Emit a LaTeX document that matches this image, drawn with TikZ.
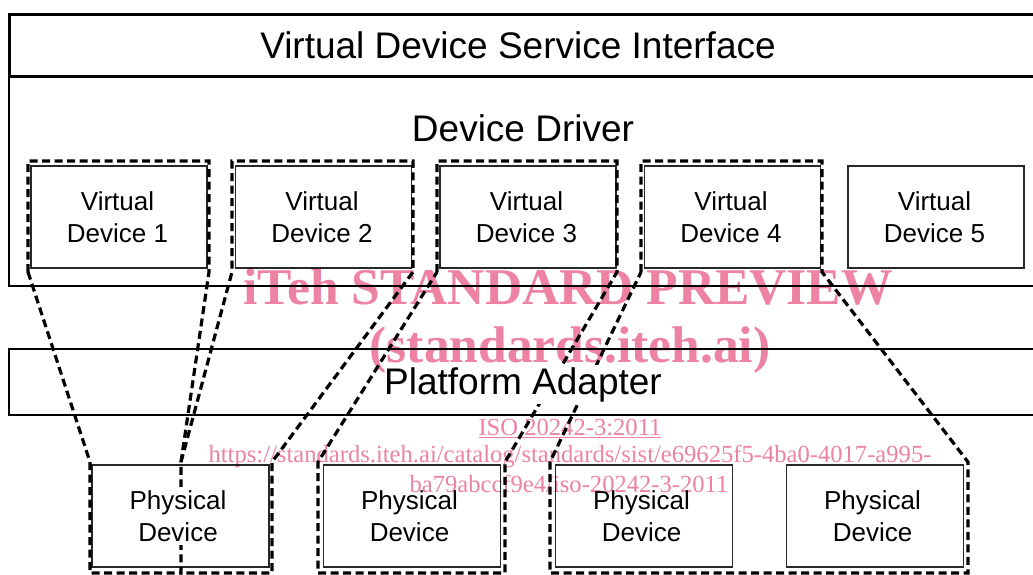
\documentclass[tikz,border=0pt]{standalone}
\usepackage{fontspec}
\setmainfont{Liberation Sans}
\newfontfamily\wmserif{Liberation Serif}
\definecolor{wmpink}{RGB}{237,130,162}
\definecolor{boxgray}{RGB}{40,40,40}
\begin{document}
\begin{tikzpicture}[x=1pt,y=-1pt,
  layerbox/.style={draw=black, fill=white, inner sep=0pt, anchor=north west},
  devbox/.style={draw=boxgray, fill=white, line width=1.3pt, minimum width=176pt, minimum height=102pt, inner sep=0pt},
  devtext/.style={font=\fontsize{26}{32}\selectfont, align=center, fill=white, inner sep=3pt},
  bigtext/.style={font=\fontsize{37}{44}\selectfont, anchor=base, inner sep=2pt},
  region/.style={draw=black, line width=3.2pt, dash pattern=on 8pt off 4.5pt, line join=miter},
  wmbig/.style={text=wmpink, font=\wmserif\bfseries\fontsize{51.5}{60}\selectfont, anchor=base, inner sep=0pt},
  wmsmall/.style={text=wmpink, font=\wmserif\fontsize{24.6}{30}\selectfont, anchor=base, inner sep=0pt}]

\useasboundingbox (0,0) rectangle (1033,574);
\clip (0,0) rectangle (1033,574);

% layer boxes
\node[layerbox, line width=1.5pt, minimum width=1040pt, minimum height=210pt] (driver) at (8,75) {};
\node[layerbox, line width=2.7pt, minimum width=1040pt, minimum height=62pt] (vdsi) at (8,13) {};
\node[layerbox, line width=2pt, minimum width=1040pt, minimum height=66pt] (adapter) at (8,348) {};

% virtual and physical device boxes
\foreach \i/\x in {1/119,2/323.5,3/528,4/732.5,5/936}
  \node[devbox] (vd\i) at (\x,217) {};
\foreach \i/\x in {1/180.5,2/412,3/644,4/875}
  \node[devbox, minimum width=177pt] (pd\i) at (\x,516) {};

% mapping regions (corner coordinates)
\coordinate (a1) at (28,161);  \coordinate (b1) at (209,161);
\coordinate (c1) at (209,272); \coordinate (d1) at (181,462);
\coordinate (e1) at (181,573); \coordinate (f1) at (90,573);
\coordinate (g1) at (90,462);  \coordinate (h1) at (28,272);

\coordinate (a2) at (232,161); \coordinate (b2) at (413,161);
\coordinate (c2) at (413,272); \coordinate (d2) at (272,462);
\coordinate (e2) at (272,573); \coordinate (h2) at (232,272);

\coordinate (a3) at (437,161); \coordinate (b3) at (617,161);
\coordinate (c3) at (617,272); \coordinate (d3) at (505,462);
\coordinate (e3) at (505,573); \coordinate (f3) at (318,573);
\coordinate (g3) at (318,462); \coordinate (h3) at (437,272);

\coordinate (a4) at (641,161); \coordinate (b4) at (822,161);
\coordinate (c4) at (822,272); \coordinate (d4) at (968,462);
\coordinate (e4) at (968,573); \coordinate (f4) at (550,573);
\coordinate (g4) at (550,462); \coordinate (h4) at (641,272);

\draw[region] (h1) -- (a1) -- (b1) -- (c1) -- (d1) -- (e1) -- (f1) -- (g1) -- cycle;
\draw[region] (d1) -- (h2) -- (a2) -- (b2) -- (c2) -- (d2) -- (e2) -- (e1);
\draw[region] (h3) -- (a3) -- (b3) -- (c3) -- (d3) -- (e3) -- (f3) -- (g3) -- cycle;
\draw[region] (h4) -- (a4) -- (b4) -- (c4) -- (d4) -- (e4) -- (f4) -- (g4) -- cycle;

% texts
\node[bigtext] (tvdsi) at (518,58) {Virtual Device Service Interface};
\node[bigtext] (tdriver) at (523,141) {Device Driver};
\node[bigtext, fill=white] (tadapter) at (523,394) {Platform Adapter};

\foreach \i in {1,...,5}
  \node[devtext] (tvd\i) at ([xshift=-1.5pt]vd\i) {Virtual\\Device \i};
\foreach \i in {1,...,4}
  \node[devtext] (tpd\i) at ([xshift=-2.5pt]pd\i) {Physical\\Device};

% watermark
\begin{scope}[blend mode=multiply]
\node[wmbig] (wm1) at (568,304) {iTeh STANDARD PREVIEW};
\node[wmbig] (wm2) at (570,362) {(standards.iteh.ai)};
\node[wmsmall] (wm3) at (570,435) {\underline{ISO 20242-3:2011}};
\node[wmsmall] (wm4) at (570,462) {https://standards.iteh.ai/catalog/standards/sist/e69625f5-4ba0-4017-a995-};
\node[wmsmall] (wm5) at (569,492) {ba79abccf9e4/iso-20242-3-2011};
\end{scope}
\end{tikzpicture}
\end{document}
